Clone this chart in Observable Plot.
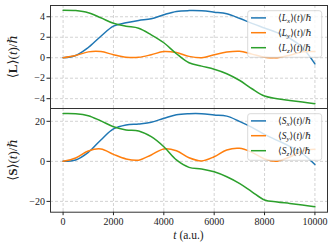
<!DOCTYPE html>
<html><head><meta charset="utf-8">
<script src="https://cdn.jsdelivr.net/npm/d3@7"></script>
<script src="https://cdn.jsdelivr.net/npm/@observablehq/plot@0.6"></script>
<style>
body{margin:0;background:#fff}
#chart{width:332px;height:246px;overflow:hidden}
#chart svg{display:block}
</style>
</head><body><div id="chart"></div>
<script>
// time samples (a.u.)
const times = [0,500,1000,1500,2000,2500,3000,3500,4000,4500,5000,5500,6000,6500,7000,7500,8000,8500,9000,9500,10000];
// orbital angular momentum <L>(t)/hbar
const Lx = [0,0.22,1.0,2.1,3.08,3.41,3.64,3.8,4.2,4.52,4.6,4.58,4.45,4.29,3.85,3.35,2.9,2.45,1.9,1.0,-0.6];
const Ly = [0,0.22,0.57,0.6,0.29,0.05,0.04,0.29,0.61,0.5,0.13,0.0,0.29,0.55,0.63,0.35,0.05,0.0,0.25,0.58,0.6];
const Lz = [4.64,4.6,4.4,3.9,3.36,3.08,2.88,2.24,1.46,0.39,-0.49,-0.82,-1.12,-1.56,-2.2,-3.03,-3.74,-4.0,-4.17,-4.33,-4.49];
// spin <S>(t)/hbar
const Sx = [0,0.7,4.5,10.7,16.2,18.2,18.7,19.5,21.5,23.3,23.8,23.8,23.2,22.6,20.0,17.0,13.5,10.5,7.5,4.0,-1.6];
const Sy = [0,1.7,5.2,6.2,3.5,1.2,0.6,3.2,6.2,5.3,1.8,0.2,2.3,5.7,6.5,4.5,1.2,0.1,2.2,5.2,6.0];
const Sz = [23.9,23.8,22.8,20.2,17.3,15.7,15.2,12.3,7.3,0.7,-3.0,-3.8,-5.2,-7.7,-11.0,-15.2,-19.3,-20.3,-21.0,-21.8,-22.7];

const components = ["x","y","z"];
const colors = ["#1f77b4","#ff7f0e","#2ca02c"];
const xTicks = [0,2000,4000,6000,8000,10000];
const topTicks = [-4,-2,0,2,4];
const bottomTicks = [-20,0,20];
const xLabel = ["t"," (a.u.)"];

function longData(arrs){
  const out = [];
  arrs.forEach((a,i)=>a.forEach((v,j)=>out.push({t:times[j], v, c:components[i]})));
  return out;
}
const topData = longData([Lx,Ly,Lz]);
const botData = longData([Sx,Sy,Sz]);
const fmt = d => d < 0 ? "\u2212" + Math.abs(d) : String(d);
const FONT = "'Liberation Serif','DejaVu Serif',serif";

function gridMarks(yt){
  return [
    Plot.ruleX(xTicks, {stroke:"#c8c8c8", strokeWidth:0.8, strokeDasharray:"3,2"}),
    Plot.ruleY(yt, {stroke:"#c8c8c8", strokeWidth:0.8, strokeDasharray:"3,2"})
  ];
}

const topPlot = Plot.plot({
  width:332, height:108, marginTop:5, marginBottom:0, marginLeft:50, marginRight:5,
  style:{fontFamily:FONT, fontSize:"10px", color:"#222", background:"transparent", overflow:"visible"},
  x:{domain:[-500,10500], axis:null},
  y:{domain:[-4.96,5.1], ticks:topTicks, tickFormat:fmt, tickSize:3.5, tickPadding:2, label:null},
  color:{domain:components, range:colors},
  marks:[
    ...gridMarks(topTicks),
    Plot.line(topData, {x:"t", y:"v", stroke:"c", z:"c", curve:"catmull-rom", strokeWidth:1.5}),
    Plot.frame({stroke:"#333", strokeWidth:1})
  ]
});

const botPlot = Plot.plot({
  width:332, height:138, marginTop:0, marginBottom:34.3, marginLeft:50, marginRight:5,
  style:{fontFamily:FONT, fontSize:"10px", color:"#222", background:"transparent", overflow:"visible"},
  x:{domain:[-500,10500], ticks:xTicks, tickFormat:d=>String(d), tickSize:3.5, tickPadding:2, label:null},
  y:{domain:[-25.4,26.4], ticks:bottomTicks, tickFormat:fmt, tickSize:3.5, tickPadding:2, label:null},
  color:{domain:components, range:colors},
  marks:[
    ...gridMarks(bottomTicks),
    Plot.line(botData, {x:"t", y:"v", stroke:"c", z:"c", curve:"catmull-rom", strokeWidth:1.5}),
    Plot.frame({stroke:"#333", strokeWidth:1})
  ]
});

const chart = document.getElementById("chart");
chart.appendChild(topPlot);
chart.appendChild(botPlot);

function yLabel(svg, sym, cy){
  const t = d3.select(svg).append("text")
    .attr("transform", `translate(12,${cy}) rotate(-90)`)
    .attr("text-anchor","middle").attr("dominant-baseline","central")
    .attr("font-family", FONT).attr("font-size", 13).attr("fill","#222");
  t.append("tspan").text("\u27E8");
  t.append("tspan").attr("font-weight","bold").text(sym);
  t.append("tspan").text("\u27E9(");
  t.append("tspan").attr("font-style","italic").text("t");
  t.append("tspan").text(")/\u210F");
}
yLabel(topPlot, "L", 56.7);
yLabel(botPlot, "S", 52);

// x label
{
  const t = d3.select(botPlot).append("text")
    .attr("x", 188.5).attr("y", 131).attr("text-anchor","middle")
    .attr("font-family", FONT).attr("font-size", 11.5).attr("fill","#222");
  t.append("tspan").attr("font-style","italic").text(xLabel[0]);
  t.append("tspan").text(xLabel[1]);
}

function legend(svg, sym, y0){
  const g = d3.select(svg).append("g").attr("font-family", FONT).attr("font-size", 9.5)
    .attr("fill","#222").attr("text-anchor","start");
  g.append("rect").attr("x",247.7).attr("y",y0).attr("width",74).attr("height",46.6).attr("rx",2.5)
    .attr("fill","white").attr("fill-opacity",0.8).attr("stroke","#d0d0d0").attr("stroke-width",0.8);
  const rows = [7.2, 22, 37];
  components.forEach((c,i)=>{
    const y = y0 + rows[i];
    g.append("line").attr("x1",251).attr("x2",266).attr("y1",y).attr("y2",y)
      .attr("stroke",colors[i]).attr("stroke-width",1.5);
    const t = g.append("text").attr("x",278).attr("y",y + 3.3).attr("text-anchor","start");
    t.append("tspan").text("\u27E8");
    t.append("tspan").attr("font-style","italic").text(sym);
    t.append("tspan").attr("font-style","italic").attr("font-size",7).attr("dy",2).text(c);
    t.append("tspan").attr("dy",-2).text("\u27E9(");
    t.append("tspan").attr("font-style","italic").text("t");
    t.append("tspan").text(")/\u210F");
  });
}
legend(topPlot, "L", 10.7);
legend(botPlot, "S", 5.7);
</script>
</body></html>
